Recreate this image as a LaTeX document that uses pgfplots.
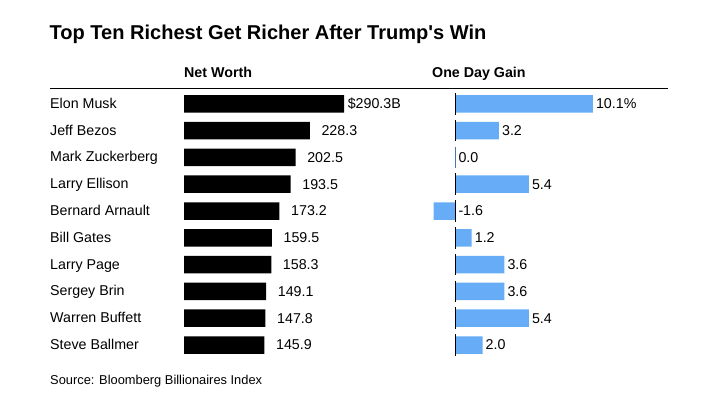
\documentclass[border=0pt]{standalone}
\usepackage{fontspec}
\setmainfont{Liberation Sans}[Ligatures=TeXOff]
\usepackage{pgfplots}
\usepackage{pgfplotstable}
\pgfplotsset{compat=1.18}
\definecolor{gainblue}{RGB}{102,172,247}

\pgfplotstableread{
i worth lab
0 290.3 {\llap{\$}290.3B}
1 228.3 228.3
2 202.5 202.5
3 193.5 193.5
4 173.2 173.2
5 159.5 159.5
6 158.3 158.3
7 149.1 149.1
8 147.8 147.8
9 145.9 145.9
}\worthtable

\pgfplotstableread{
i gain lx lab
0 10.1 10.1 {10.1\%}
1 3.2 3.2 3.2
2 0.0 0 0.0
3 5.4 5.4 5.4
4 -1.6 0 -1.6
5 1.2 1.2 1.2
6 3.6 3.6 3.6
7 3.6 3.6 3.6
8 5.4 5.4 5.4
9 2.0 2.0 2.0
}\gaintable

\pgfplotsset{rowaxis/.style={
  scale only axis, height=268bp, ymin=-0.5, ymax=9.5, y dir=reverse,
  axis line style={draw=none}, tick style={draw=none}, xtick=\empty,
  clip=false, anchor=north west}}

\newcommand{\lab}{\fontsize{14.3}{16}\selectfont}

\begin{document}
\begin{tikzpicture}
\path (0,0) rectangle (701bp,395bp);
% title
\node[anchor=base west, inner sep=0pt, font=\fontsize{20.1}{24}\selectfont\bfseries] at (49.5bp,355bp) {Top Ten Richest Get Richer After Trump's Win};
% headers
\node[anchor=base west, inner sep=0pt, font=\lab\bfseries] at (184bp,317.3bp) {Net Worth};
\node[anchor=base west, inner sep=0pt, font=\lab\bfseries] at (432bp,317.3bp) {One Day Gain};
\draw[line width=1.8bp] (50bp,306.5bp) -- (668bp,306.5bp);
% source
\node[anchor=base west, inner sep=0pt, font=\fontsize{12.9}{15}\selectfont] at (50bp,10.7bp) {Source: Bloomberg Billionaires Index};

\begin{axis}[rowaxis, at={(184bp,304.6bp)}, width=160bp, xmin=0, xmax=290.3,
  ytick={0,...,9},
  yticklabels={Elon Musk,Jeff Bezos,Mark Zuckerberg,Larry Ellison,Bernard Arnault,Bill Gates,Larry Page,Sergey Brin,Warren Buffett,Steve Ballmer},
  yticklabel style={anchor=base west, inner sep=0pt, xshift=-134bp, yshift=-4.5bp, font=\lab}]
\addplot[xbar, bar width=17.5bp, bar shift=0pt, fill=black, draw=none,
  nodes near coords, point meta=explicit symbolic,
  nodes near coords style={anchor=west, inner sep=0pt, xshift=11.5bp, font=\lab, text=black}]
  table[x=worth, y=i, meta=lab] {\worthtable};
\end{axis}

\begin{axis}[rowaxis, at={(428.06bp,304.6bp)}, width=164.8bp, xmin=-2, xmax=10.1, ytick=\empty]
\addplot[xbar, bar width=17.5bp, bar shift=0pt, fill=gainblue, draw=none]
  table[x=gain, y=i] {\gaintable};
\addplot[draw=none, mark=none, nodes near coords, point meta=explicit symbolic,
  nodes near coords style={anchor=west, inner sep=0pt, xshift=3bp, font=\lab, text=black}]
  table[x=lx, y=i, meta=lab] {\gaintable};
\pgfplotsinvokeforeach{0,1,3,4,5,6,7,8,9}{
  \draw[line width=1.3bp, black] (axis cs:0,#1-0.4) -- (axis cs:0,#1+0.4);
}
\draw[line width=1.3bp, gainblue!70!black] (axis cs:0,1.6) -- (axis cs:0,2.4);
\end{axis}
\end{tikzpicture}
\end{document}
